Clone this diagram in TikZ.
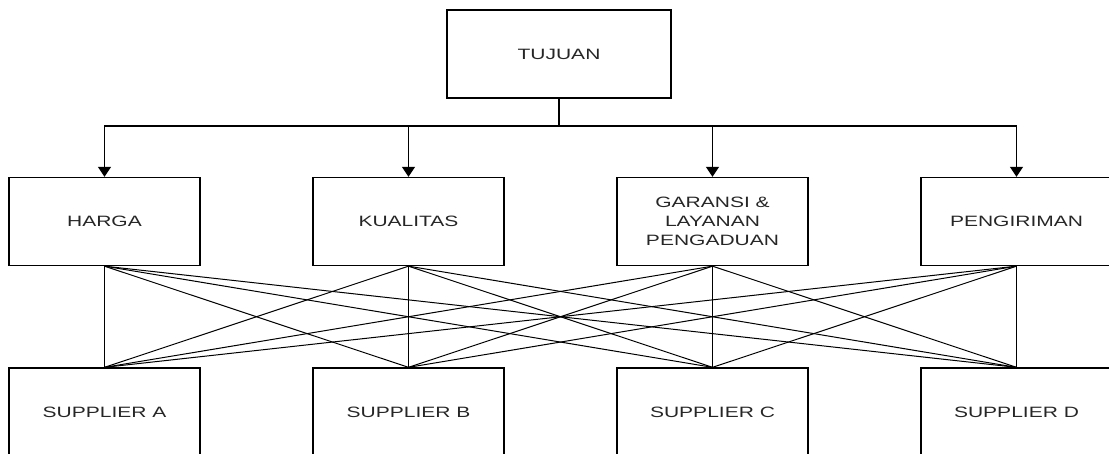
\documentclass[tikz,border=0pt]{standalone}
\usepackage{fontspec}
\setmainfont{Liberation Sans}[FakeStretch=1.4]
\usetikzlibrary{arrows.meta}
\begin{document}
\begin{tikzpicture}[x=1pt,y=-1pt,line width=1.3pt,
        box/.style={draw=black,rectangle,minimum width=191pt,minimum height=88pt,
            inner sep=0pt,align=center,text=black!85,font=\fontsize{15}{19}\selectfont},
        goal/.style={box,minimum width=224pt},
        link/.style={line width=1pt},
        down/.style={-{Triangle[width=13pt,length=10pt]}}]
        \useasboundingbox (0,0) rectangle (1109,454);
        % goal
        \node [goal] (tujuan) at (559,54) {TUJUAN};
        \coordinate (split) at (559,126);
        % criteria
        \node [box] (harga) at (104.5,221.5) {HARGA};
        \node [box] (kualitas) at (408.5,221.5) {KUALITAS};
        \node [box] (garansi) at (712.5,221.5) {GARANSI \&\\LAYANAN\\PENGADUAN};
        \node [box] (kirim) at (1016.5,221.5) {PENGIRIMAN};
        % alternatives
        \node [box] (supa) at (104.5,412) {SUPPLIER A};
        \node [box] (supb) at (408.5,412) {SUPPLIER B};
        \node [box] (supc) at (712.5,412) {SUPPLIER C};
        \node [box] (supd) at (1016.5,412) {SUPPLIER D};
        \draw (tujuan) -- (split);
        \draw [down] (split) -| (harga);
        \draw [down] (split) -| (kualitas);
        \draw [down] (split) -| (garansi);
        \draw [down] (split) -| (kirim);
        \draw [link] (harga.south) -- (supa.north);
        \draw [link] (harga.south) -- (supb.north);
        \draw [link] (harga.south) -- (supc.north);
        \draw [link] (harga.south) -- (supd.north);
        \draw [link] (kualitas.south) -- (supa.north);
        \draw [link] (kualitas.south) -- (supb.north);
        \draw [link] (kualitas.south) -- (supc.north);
        \draw [link] (kualitas.south) -- (supd.north);
        \draw [link] (garansi.south) -- (supa.north);
        \draw [link] (garansi.south) -- (supb.north);
        \draw [link] (garansi.south) -- (supc.north);
        \draw [link] (garansi.south) -- (supd.north);
        \draw [link] (kirim.south) -- (supa.north);
        \draw [link] (kirim.south) -- (supb.north);
        \draw [link] (kirim.south) -- (supc.north);
        \draw [link] (kirim.south) -- (supd.north);
\end{tikzpicture}
\end{document}
